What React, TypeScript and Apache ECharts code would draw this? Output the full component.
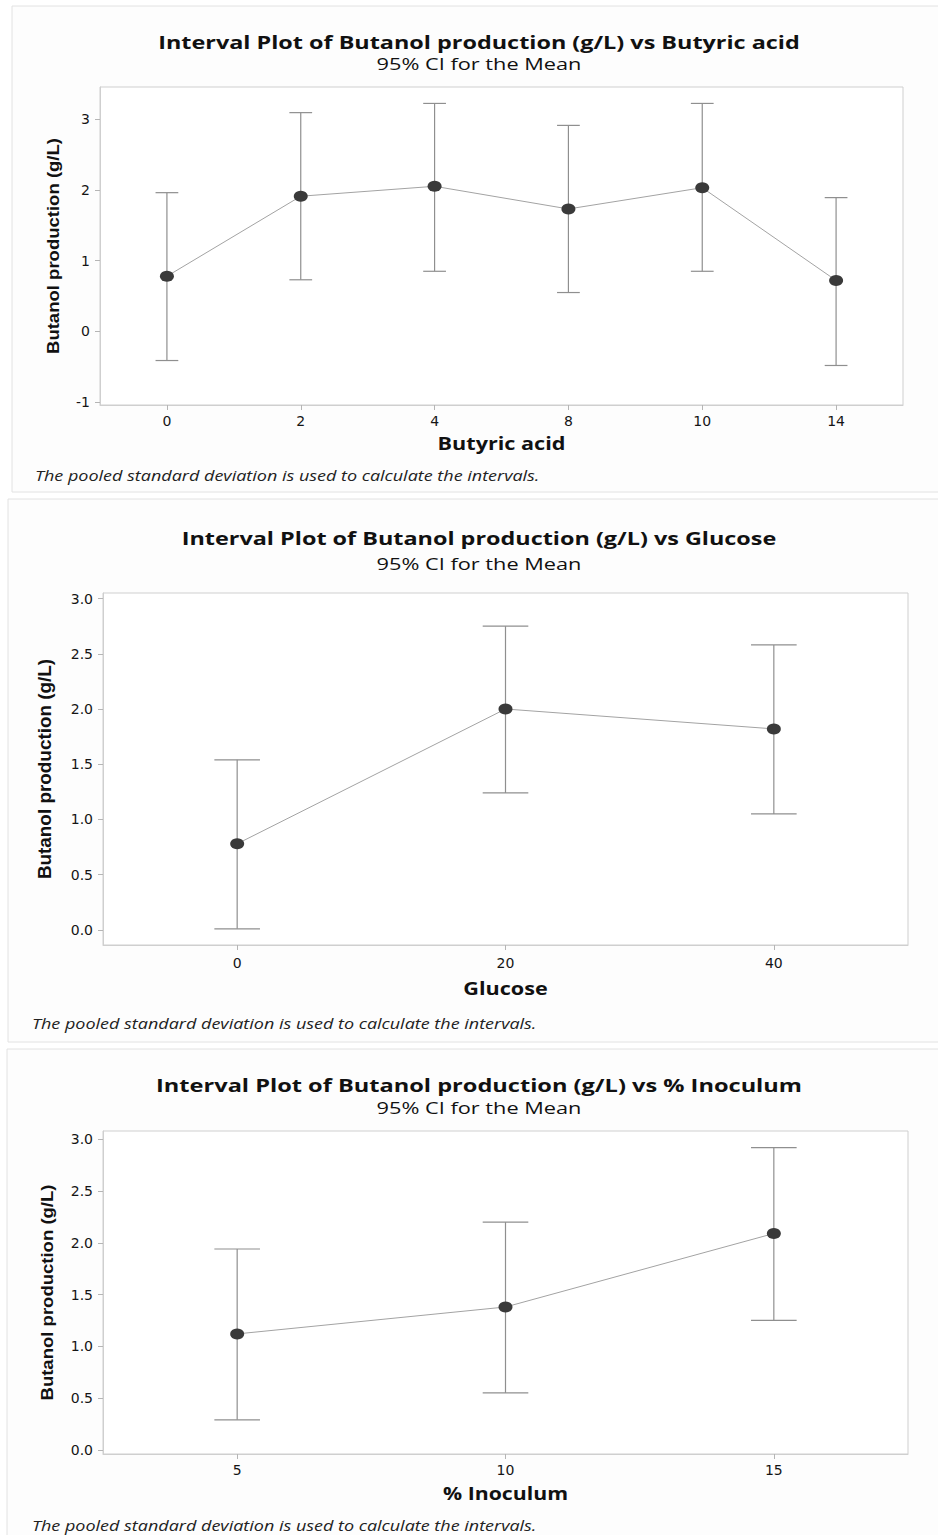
import React, { useEffect, useRef } from "react";
import * as echarts from "echarts";

const butyricCategories = ["0", "2", "4", "8", "10", "14"];
const butyricMean = [0.78, 1.91, 2.05, 1.73, 2.03, 0.72];
const butyricLower = [-0.41, 0.73, 0.85, 0.55, 0.85, -0.48];
const butyricUpper = [1.96, 3.09, 3.22, 2.91, 3.22, 1.89];
const butyricTicks = [-1, 0, 1, 2, 3];

const glucoseCategories = ["0", "20", "40"];
const glucoseMean = [0.78, 2.0, 1.82];
const glucoseLower = [0.01, 1.24, 1.05];
const glucoseUpper = [1.54, 2.75, 2.58];

const inoculumCategories = ["5", "10", "15"];
const inoculumMean = [1.12, 1.38, 2.09];
const inoculumLower = [0.29, 0.55, 1.25];
const inoculumUpper = [1.94, 2.2, 2.92];

const halfTicks = [0, 0.5, 1, 1.5, 2, 2.5, 3];

const TITLE_FONT = "'Open Sans', 'Noto Sans', sans-serif";
const TICK_FONT = "'DejaVu Sans', Verdana, sans-serif";
const YNAME_FONT = "'Liberation Sans', Arial, sans-serif";

type Panel = {
  title: string;
  xName: string;
  cats: string[];
  mean: number[];
  lower: number[];
  upper: number[];
  ticks: number[];
  decimals: number;
  yMin: number;
  yMax: number;
  grid: { left: number; top: number; width: number; height: number };
  box: { x: number; y: number; w: number; h: number };
  titleY: number;
  subY: number;
  xNameY: number;
  yNameX: number;
  yNameSize: number;
  yNameScale: number;
  footX: number;
  footY: number;
  xLabelMargin: number;
  titleScale: number;
  xNameScale: number;
};

const panels: Panel[] = [
  {
    title: "Interval Plot of Butanol production (g/L) vs Butyric acid",
    xName: "Butyric acid",
    cats: butyricCategories,
    mean: butyricMean,
    lower: butyricLower,
    upper: butyricUpper,
    ticks: butyricTicks,
    decimals: 0,
    yMin: -1.038,
    yMax: 3.452,
    grid: { left: 100, top: 87, width: 803, height: 318 },
    box: { x: 12, y: 6, w: 940, h: 486 },
    titleY: 42,
    subY: 64,
    xNameY: 443,
    yNameX: 53,
    yNameSize: 17,
    yNameScale: 1.09,
    footX: 35,
    footY: 475,
    xLabelMargin: 9,
    titleScale: 1.3,
    xNameScale: 1.27,
  },
  {
    title: "Interval Plot of Butanol production (g/L) vs Glucose",
    xName: "Glucose",
    cats: glucoseCategories,
    mean: glucoseMean,
    lower: glucoseLower,
    upper: glucoseUpper,
    ticks: halfTicks,
    decimals: 1,
    yMin: -0.136,
    yMax: 3.05,
    grid: { left: 103, top: 593, width: 805, height: 352 },
    box: { x: 8, y: 499, w: 940, h: 543 },
    titleY: 538,
    subY: 564,
    xNameY: 988,
    yNameX: 45,
    yNameSize: 18,
    yNameScale: 1.05,
    footX: 32,
    footY: 1023,
    xLabelMargin: 11,
    titleScale: 1.3,
    xNameScale: 1.27,
  },
  {
    title: "Interval Plot of Butanol production (g/L) vs % Inoculum",
    xName: "% Inoculum",
    cats: inoculumCategories,
    mean: inoculumMean,
    lower: inoculumLower,
    upper: inoculumUpper,
    ticks: halfTicks,
    decimals: 1,
    yMin: -0.04,
    yMax: 3.08,
    grid: { left: 103, top: 1131, width: 805, height: 323 },
    box: { x: 7, y: 1049, w: 940, h: 500 },
    titleY: 1085,
    subY: 1108,
    xNameY: 1493,
    yNameX: 47,
    yNameSize: 17,
    yNameScale: 1.09,
    footX: 32,
    footY: 1525,
    xLabelMargin: 9,
    titleScale: 1.31,
    xNameScale: 1.25,
  },
];

export default function App() {
  const ref = useRef<HTMLDivElement>(null);

  useEffect(() => {
    if (!ref.current) return;
    const chart = echarts.init(ref.current, null, { renderer: "svg" });

    const grids: any[] = [];
    const xAxes: any[] = [];
    const yAxes: any[] = [];
    const series: any[] = [];
    const graphics: any[] = [];

    panels.forEach((p, i) => {
      graphics.push({
        type: "rect",
        shape: { x: p.box.x, y: p.box.y, width: p.box.w, height: p.box.h },
        style: { fill: "#fdfdfd", stroke: "#e2e2e2", lineWidth: 1 },
        z: -10,
      });
      grids.push({
        ...p.grid,
        show: true,
        backgroundColor: "#ffffff",
        borderColor: "#cfcfcf",
        borderWidth: 1,
      });
      xAxes.push({
        type: "category",
        gridIndex: i,
        data: p.cats,
        boundaryGap: true,
        axisLine: { show: true, onZero: false, lineStyle: { color: "#cfcfcf", width: 1 } },
        axisTick: { show: true, alignWithLabel: true, length: 5, lineStyle: { color: "#b5b5b5" } },
        axisLabel: {
          interval: 0,
          fontSize: 14,
          color: "#151515",
          fontFamily: TICK_FONT,
          margin: p.xLabelMargin,
        },
        splitLine: { show: false },
      });
      yAxes.push({
        type: "value",
        gridIndex: i,
        min: p.yMin,
        max: p.yMax,
        axisLine: { show: true, lineStyle: { color: "#cfcfcf", width: 1 } },
        axisTick: { show: true, length: 5, customValues: p.ticks, lineStyle: { color: "#b5b5b5" } },
        axisLabel: {
          customValues: p.ticks,
          fontSize: 14,
          color: "#151515",
          fontFamily: TICK_FONT,
          margin: 10,
          formatter: (v: number) => v.toFixed(p.decimals),
        },
        splitLine: { show: false },
      });
      series.push({
        type: "custom",
        xAxisIndex: i,
        yAxisIndex: i,
        data: p.cats.map((_, j) => [j, p.lower[j], p.upper[j]]),
        encode: { x: 0, y: [1, 2] },
        z: 2,
        renderItem: (params: any, api: any) => {
          const x = api.value(0);
          const lo = api.coord([x, api.value(1)]);
          const hi = api.coord([x, api.value(2)]);
          const half = api.size([1, 0])[0] * 0.085;
          const st = { stroke: "#8f8f8f", lineWidth: 1.2, fill: "none" };
          return {
            type: "group",
            children: [
              { type: "line", shape: { x1: lo[0], y1: lo[1], x2: hi[0], y2: hi[1] }, style: st },
              { type: "line", shape: { x1: lo[0] - half, y1: lo[1], x2: lo[0] + half, y2: lo[1] }, style: st },
              { type: "line", shape: { x1: hi[0] - half, y1: hi[1], x2: hi[0] + half, y2: hi[1] }, style: st },
            ],
          };
        },
      });
      series.push({
        type: "line",
        xAxisIndex: i,
        yAxisIndex: i,
        data: p.mean,
        symbol: "circle",
        symbolSize: [14, 11],
        itemStyle: { color: "#3a3a3a" },
        lineStyle: { color: "#a3a3a3", width: 1 },
        z: 3,
      });

      const cx = 479;
      const plotCx = p.grid.left + p.grid.width / 2;
      const plotCy = p.grid.top + p.grid.height / 2;
      graphics.push(
        {
          type: "text",
          x: cx,
          y: p.titleY,
          scaleX: p.titleScale,
          style: {
            text: p.title,
            fontFamily: TITLE_FONT,
            fontSize: 18,
            fontWeight: "bold",
            fill: "#111",
            textAlign: "center",
            textVerticalAlign: "middle",
          },
          z: 5,
        },
        {
          type: "text",
          x: cx,
          y: p.subY,
          scaleX: 1.36,
          style: {
            text: "95% CI for the Mean",
            fontFamily: TITLE_FONT,
            fontSize: 16,
            fill: "#111",
            textAlign: "center",
            textVerticalAlign: "middle",
          },
          z: 5,
        },
        {
          type: "text",
          x: plotCx,
          y: p.xNameY,
          scaleX: p.xNameScale,
          style: {
            text: p.xName,
            fontFamily: TITLE_FONT,
            fontSize: 17,
            fontWeight: "bold",
            fill: "#111",
            textAlign: "center",
            textVerticalAlign: "middle",
          },
          z: 5,
        },
        {
          type: "text",
          x: p.yNameX,
          y: plotCy,
          rotation: Math.PI / 2,
          scaleX: p.yNameScale,
          style: {
            text: "Butanol production (g/L)",
            fontFamily: YNAME_FONT,
            fontSize: p.yNameSize,
            fontWeight: "bold",
            fill: "#111",
            textAlign: "center",
            textVerticalAlign: "middle",
          },
          z: 5,
        },
        {
          type: "text",
          x: p.footX,
          y: p.footY,
          scaleX: 1.2,
          style: {
            text: "The pooled standard deviation is used to calculate the intervals.",
            fontFamily: TITLE_FONT,
            fontSize: 15,
            fontStyle: "italic",
            fill: "#222",
            textAlign: "left",
            textVerticalAlign: "middle",
          },
          z: 5,
        }
      );
    });

    chart.setOption({
      animation: false,
      backgroundColor: "#ffffff",
      grid: grids,
      xAxis: xAxes,
      yAxis: yAxes,
      series,
      graphic: { elements: graphics },
    });

    return () => chart.dispose();
  }, []);

  return (
    <div
      ref={ref}
      style={{ position: "absolute", left: 0, top: 0, width: 938, height: 1535 }}
    />
  );
}
